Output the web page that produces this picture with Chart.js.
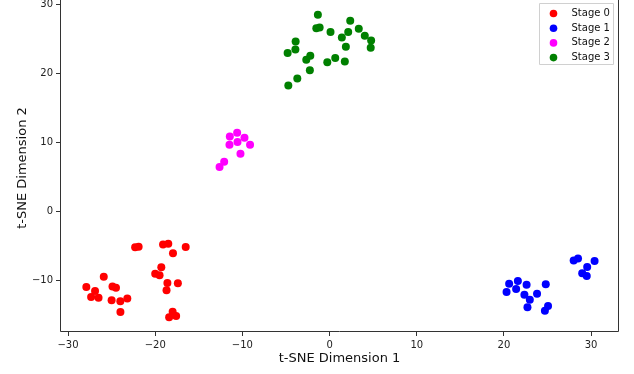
<!DOCTYPE html>
<html>
<head>
<meta charset="utf-8">
<script src="https://cdn.jsdelivr.net/npm/chart.js@4.4.0/dist/chart.umd.min.js"></script>
<style>
  html, body { margin: 0; padding: 0; background: #fff; }
  #wrap { width: 634px; height: 374px; }
</style>
</head>
<body>
<div id="wrap"><canvas id="c" width="634" height="374"></canvas></div>
<script>
const stageLabels = ["Stage 0", "Stage 1", "Stage 2", "Stage 3"];
const stageColors = ["#ff0000", "#0000ff", "#ff00ff", "#008000"];

const stage0X = [-22.3, -21.9, -19.1, -18.5, -16.5, -17.96, -19.3, -20.0, -19.5, -18.6, -17.4, -18.7, -25.9, -27.9, -26.9, -24.9, -24.5, -27.35, -26.5, -25.0, -24.0, -23.2, -23.99, -18.0, -17.6, -18.4];
const stage0Y = [-5.17, -5.07, -4.74, -4.64, -5.12, -6.04, -8.07, -8.99, -9.23, -10.33, -10.39, -11.4, -9.42, -10.92, -11.5, -10.83, -11.01, -12.36, -12.46, -12.85, -13.0, -12.57, -14.54, -14.49, -15.12, -15.32];

const stage1X = [28.0, 28.5, 30.4, 29.55, 28.98, 29.5, 20.6, 21.6, 22.6, 24.8, 20.3, 21.4, 22.35, 23.8, 22.97, 22.7, 25.06, 24.7];
const stage1Y = [-7.06, -6.77, -7.15, -8.01, -8.94, -9.32, -10.43, -10.04, -10.58, -10.53, -11.64, -11.2, -12.03, -11.88, -12.75, -13.87, -13.67, -14.35];

const stage2X = [-10.6, -11.44, -9.76, -11.48, -10.56, -9.12, -10.22, -12.09, -12.62];
const stage2Y = [11.45, 10.91, 10.72, 9.71, 10.1, 9.71, 8.41, 7.25, 6.48];

const stage3X = [-1.34, -1.52, -1.14, 0.11, 2.37, 2.14, 3.35, 1.41, 4.04, 4.77, 4.72, 1.87, -3.89, -3.92, -4.81, -2.21, -2.67, 0.65, -0.26, 1.75, -2.26, -3.7, -4.73];
const stage3Y = [28.55, 26.57, 26.71, 26.04, 27.68, 26.04, 26.52, 25.26, 25.51, 24.82, 23.77, 23.91, 24.68, 23.52, 23.0, 22.61, 22.03, 22.28, 21.64, 21.78, 20.48, 19.32, 18.3];

const xTicks = [-30, -20, -10, 0, 10, 20, 30];
const yTicks = [-10, 0, 10, 20, 30];
const xTitle = "t-SNE Dimension 1";
const yTitle = "t-SNE Dimension 2";

const seriesX = [stage0X, stage1X, stage2X, stage3X];
const seriesY = [stage0Y, stage1Y, stage2Y, stage3Y];

const datasets = stageLabels.map((lab, i) => ({
  label: lab,
  data: seriesX[i].map((x, j) => ({ x: x, y: seriesY[i][j] })),
  backgroundColor: stageColors[i],
  borderColor: stageColors[i],
  borderWidth: 0,
  pointRadius: 4,
  pointHoverRadius: 4
}));

const FONT = "'DejaVu Sans', sans-serif";
const fmt = v => (v < 0 ? "\u2212" + Math.abs(v) : String(v));

const framePlugin = {
  id: 'frame',
  afterDraw(chart) {
    const { ctx, chartArea: a } = chart;
    const L = Math.round(a.left) + 0.5, R = Math.round(a.right) - 0.5, B = Math.round(a.bottom) - 0.5, T = 0;
    ctx.save();
    ctx.strokeStyle = '#333';
    ctx.lineWidth = 1;
    ctx.beginPath();
    ctx.moveTo(L, T); ctx.lineTo(L, B); ctx.lineTo(R, B); ctx.lineTo(R, T);
    ctx.stroke();
    // legend
    const bx = 539.5, by = 3.5, bw = 74, bh = 61;
    ctx.fillStyle = 'rgba(255,255,255,0.85)';
    ctx.strokeStyle = '#d0d0d0';
    ctx.lineWidth = 1;
    ctx.beginPath();
    ctx.rect(bx, by, bw, bh);
    ctx.fill();
    ctx.stroke();
    ctx.font = "10px " + FONT;
    ctx.textBaseline = 'middle';
    ctx.textAlign = 'left';
    chart.data.datasets.forEach((ds, i) => {
      const cy = by + 10 + i * 14.7;
      ctx.fillStyle = ds.backgroundColor;
      ctx.beginPath();
      ctx.arc(bx + 14, cy, 3.8, 0, Math.PI * 2);
      ctx.fill();
      ctx.fillStyle = '#111';
      ctx.fillText(ds.label, bx + 32, cy);
    });
    ctx.restore();
  }
};

new Chart(document.getElementById('c'), {
  type: 'scatter',
  data: { datasets: datasets },
  plugins: [framePlugin],
  options: {
    responsive: false,
    animation: false,
    devicePixelRatio: 1,
    layout: { padding: { left: 0, right: 15, top: 0, bottom: 0 } },
    plugins: { legend: { display: false }, tooltip: { enabled: false } },
    scales: {
      x: {
        type: 'linear',
        min: -30.92, max: 33.2,
        afterBuildTicks: s => { s.ticks = xTicks.map(v => ({ value: v })); },
        afterFit: s => { s.height = 42; s.paddingLeft = 0; s.paddingRight = 0; },
        grid: { display: true, drawOnChartArea: false, drawTicks: true, tickLength: 4, color: '#333' },
        border: { display: false },
        ticks: { color: '#222', font: { family: FONT, size: 10 }, padding: 3, maxRotation: 0, callback: v => fmt(v) },
        title: { display: true, text: xTitle, color: '#111', font: { family: FONT, size: 13 }, padding: { top: 2, bottom: 8 } }
      },
      y: {
        type: 'linear',
        min: -17.44, max: 30.1,
        afterBuildTicks: s => { s.ticks = yTicks.map(v => ({ value: v })); },
        afterFit: s => { s.width = 60; s.paddingTop = 0; s.paddingBottom = 0; },
        grid: { display: true, drawOnChartArea: false, drawTicks: true, tickLength: 4, color: '#333' },
        border: { display: false },
        ticks: { color: '#222', font: { family: FONT, size: 10 }, padding: 3, callback: v => fmt(v) },
        title: { display: true, text: yTitle, color: '#111', font: { family: FONT, size: 13 }, padding: { top: 15, bottom: 0 } }
      }
    }
  }
});
</script>
</body>
</html>
